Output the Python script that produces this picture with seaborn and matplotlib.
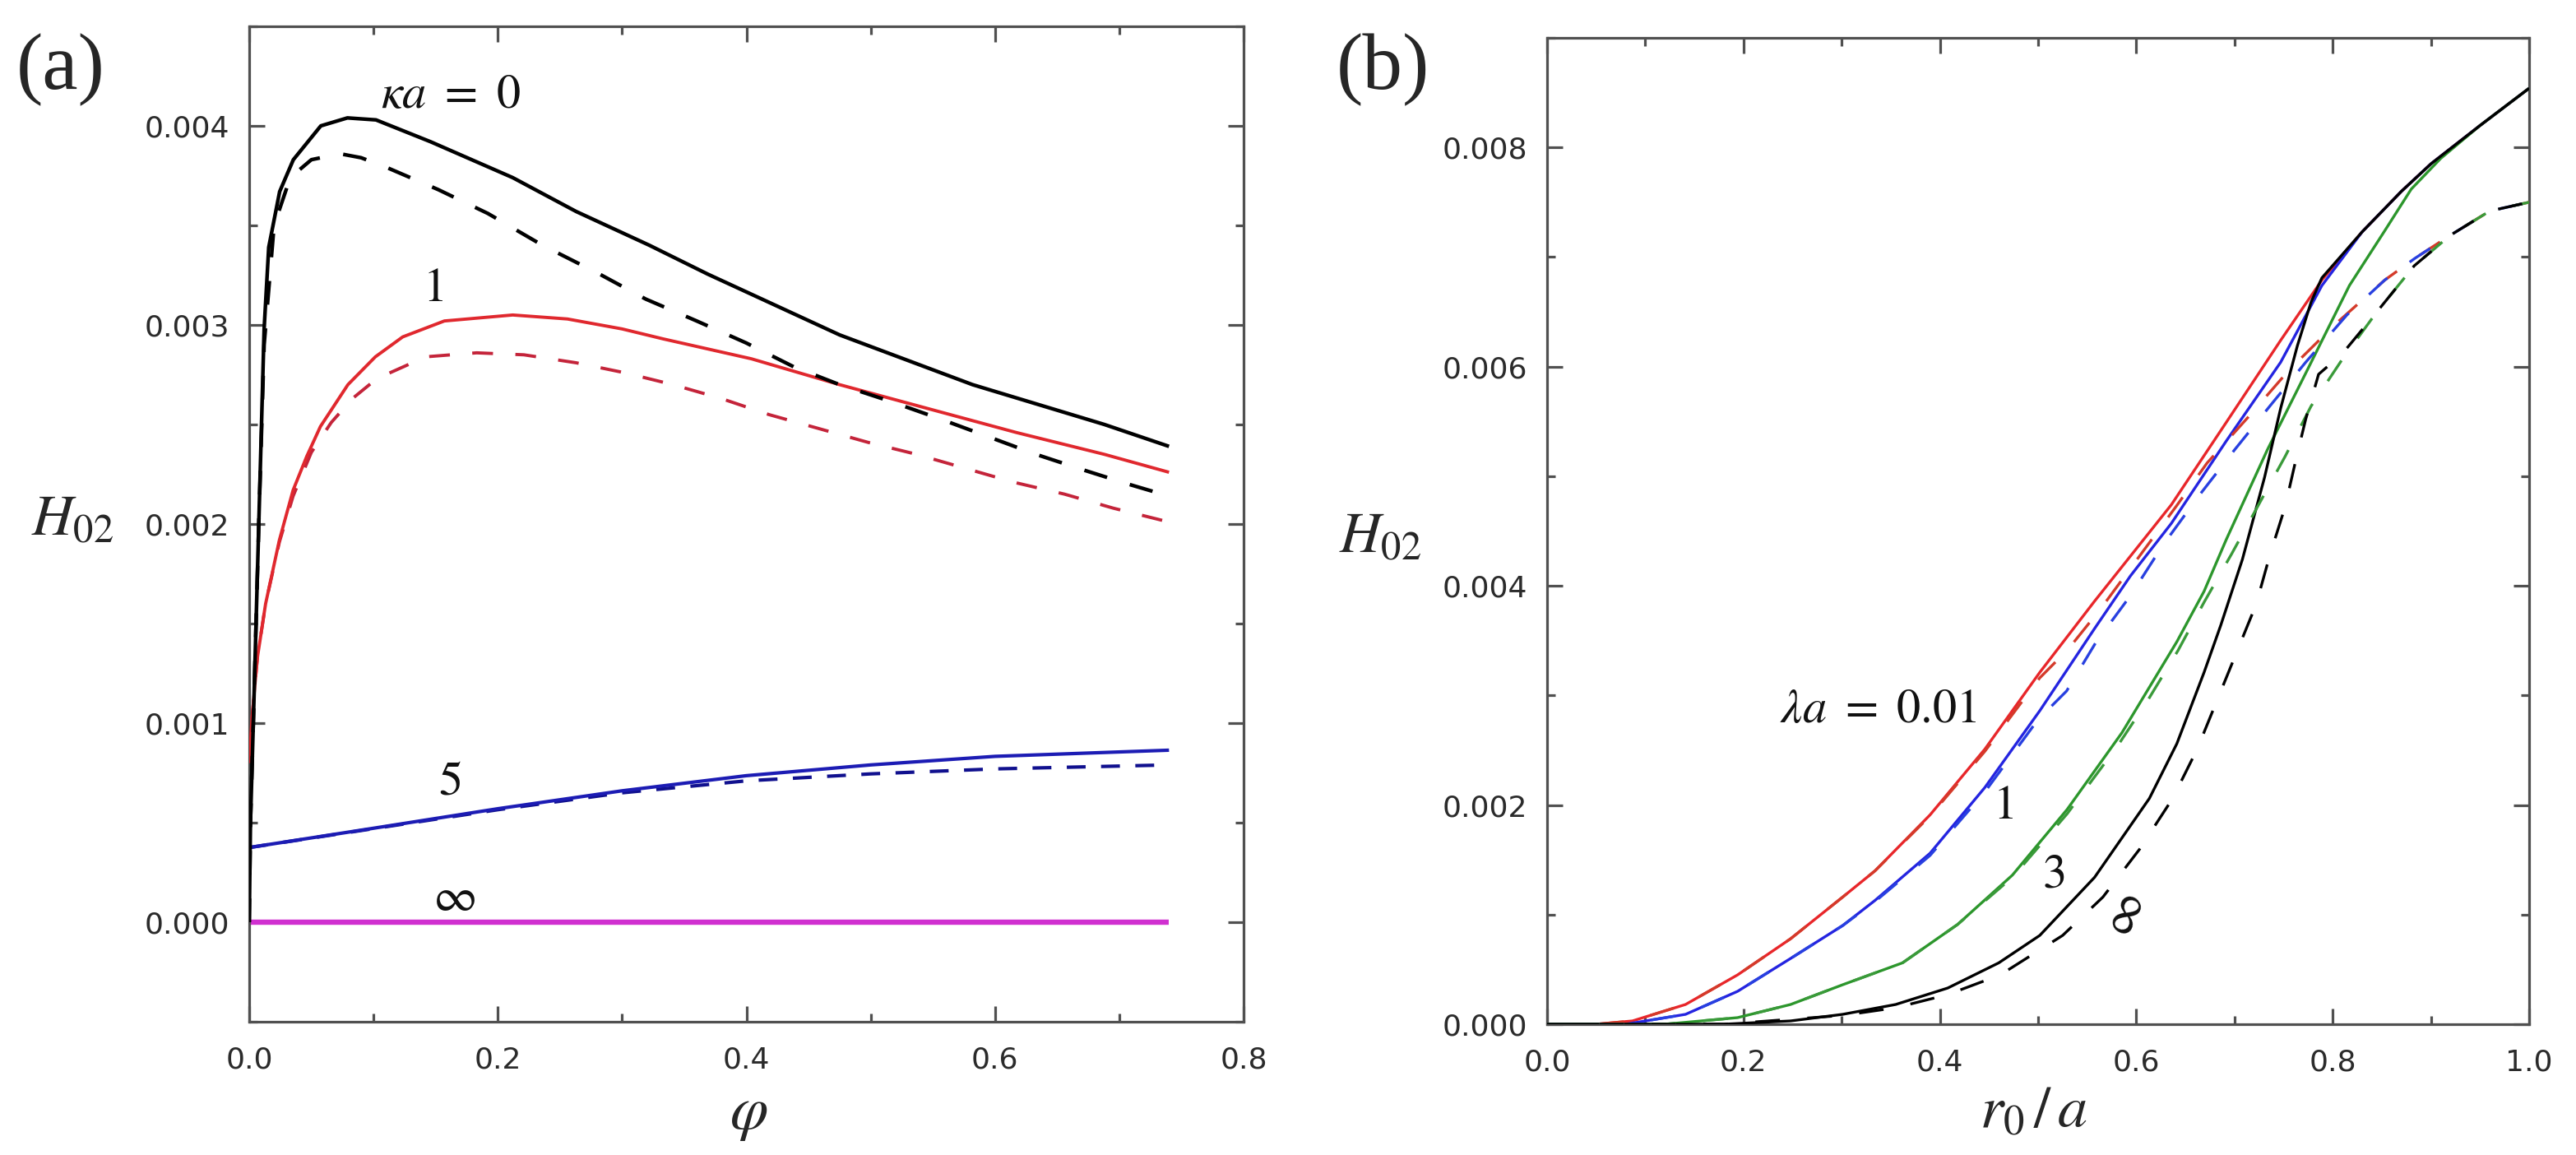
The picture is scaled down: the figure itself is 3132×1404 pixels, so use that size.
import matplotlib
matplotlib.use("Agg")
import matplotlib.pyplot as plt
import seaborn as sns
from matplotlib.ticker import MultipleLocator, FormatStrFormatter

# ---------------- data : panel (a)  H02 vs phi ----------------
phi_k0_solid = [0, 0.001, 0.0033, 0.0077, 0.012, 0.0157, 0.0245, 0.0355, 0.0576, 0.079, 0.102,
                0.146, 0.212, 0.263, 0.322, 0.369, 0.475, 0.582, 0.688, 0.74]
H_k0_solid = [0, 0.0005, 0.001, 0.002, 0.00298, 0.00339, 0.00367, 0.00383, 0.0040, 0.00404, 0.00403,
              0.00392, 0.00374, 0.00357, 0.0034, 0.003255, 0.00295, 0.0027, 0.0025, 0.00239]

phi_k0_dash = [0, 0.001, 0.0033, 0.0077, 0.012, 0.02, 0.033, 0.05, 0.073, 0.09, 0.111, 0.152, 0.192,
               0.236, 0.2805, 0.319, 0.36, 0.3997, 0.438, 0.475, 0.514, 0.555, 0.594, 0.633, 0.672,
               0.7075, 0.74]
H_k0_dash = [0, 0.0005, 0.001, 0.002, 0.0029, 0.0035, 0.00374, 0.00383, 0.00386, 0.00384, 0.00379,
             0.00368, 0.00356, 0.0034, 0.00326, 0.00313, 0.00302, 0.00291, 0.00279, 0.0027, 0.00262,
             0.00253, 0.00244, 0.00235, 0.00227, 0.0022, 0.00214]

phi_k1_solid = [0, 0.002, 0.0044, 0.0066, 0.0132, 0.0243, 0.0353, 0.0463, 0.0573, 0.0794, 0.1015,
                0.1235, 0.157, 0.212, 0.256, 0.3, 0.333, 0.404, 0.475, 0.546, 0.617, 0.688, 0.74]
H_k1_solid = [0.0008, 0.001, 0.00118, 0.00133, 0.0016, 0.00192, 0.00217, 0.00234, 0.00249, 0.0027,
              0.00284, 0.00294, 0.00302, 0.00305, 0.00303, 0.00298, 0.00293, 0.00283, 0.0027, 0.00258,
              0.00246, 0.00235, 0.00226]

phi_k1_dash = [0, 0.002, 0.0044, 0.0066, 0.0132, 0.0243, 0.0353, 0.05, 0.066, 0.083, 0.1026, 0.142,
               0.183, 0.221, 0.263, 0.302, 0.341, 0.38, 0.418, 0.458, 0.498, 0.537, 0.576, 0.615,
               0.656, 0.695, 0.74]
H_k1_dash = [0.0008, 0.001, 0.00118, 0.00133, 0.0016, 0.00191, 0.00214, 0.00236, 0.00251, 0.00263,
             0.00273, 0.00284, 0.00286, 0.00285, 0.00281, 0.00276, 0.0027, 0.00263, 0.00255, 0.00248,
             0.00241, 0.00235, 0.00228, 0.00221, 0.00215, 0.00208, 0.00201]

phi_k5 = [0, 0.1, 0.2, 0.3, 0.4, 0.5, 0.6, 0.74]
H_k5_solid = [0.000375, 0.000472, 0.00057, 0.00066, 0.000736, 0.00079, 0.000833, 0.000864]
H_k5_dash = [0.000375, 0.00047, 0.000565, 0.00065, 0.00071, 0.000745, 0.00077, 0.00079]

phi_kinf = [0, 0.74]
H_kinf = [0, 0]

labels_a = [r"$\kappa a\ =\ 0$", r"$1$", r"$5$", r"$\infty$"]

# ---------------- data : panel (b)  H02 vs r0/a ----------------
r_red = [0.0, 0.05, 0.087, 0.141, 0.194, 0.248, 0.301, 0.334, 0.39, 0.4458, 0.5017, 0.5575, 0.6357,
         0.6915, 0.747, 0.789, 0.83, 0.87, 0.9, 0.95, 1.0]
H_red = [0, 0, 0.00003, 0.00018, 0.00045, 0.00078, 0.00116, 0.0014, 0.00191, 0.00251, 0.00321, 0.00386,
         0.00474, 0.00549, 0.00624, 0.00679, 0.00723, 0.0076, 0.00785, 0.0082, 0.00854]

r_blue = [0.0, 0.08, 0.141, 0.194, 0.248, 0.301, 0.334, 0.39, 0.4458, 0.5017, 0.5575, 0.594, 0.6357,
          0.6915, 0.747, 0.789, 0.83, 0.87, 0.9, 0.95, 1.0]
H_blue = [0, 0, 0.00009, 0.0003, 0.0006, 0.0009, 0.00113, 0.00156, 0.00216, 0.00286, 0.00361, 0.00409,
          0.00457, 0.00532, 0.00604, 0.00674, 0.00723, 0.0076, 0.00785, 0.0082, 0.00854]

r_green = [0.0, 0.12, 0.194, 0.248, 0.301, 0.362, 0.418, 0.4738, 0.5296, 0.5854, 0.6413, 0.669, 0.6915,
           0.7334, 0.7753, 0.817, 0.853, 0.88, 0.91, 0.95, 1.0]
H_green = [0, 0, 0.00006, 0.00018, 0.00036, 0.00056, 0.00091, 0.00136, 0.00196, 0.00266, 0.00349,
           0.00395, 0.00442, 0.00524, 0.00599, 0.00674, 0.00724, 0.00762, 0.0079, 0.0082, 0.00854]

r_black = [0.0, 0.18, 0.248, 0.301, 0.355, 0.408, 0.46, 0.5017, 0.5575, 0.6133, 0.6413, 0.669, 0.686,
           0.708, 0.7306, 0.747, 0.764, 0.778, 0.789, 0.83, 0.87, 0.9, 0.95, 1.0]
H_black = [0, 0, 0.00003, 0.00009, 0.00018, 0.00033, 0.00056, 0.00081, 0.00134, 0.00206, 0.00256,
           0.00321, 0.00364, 0.00424, 0.00499, 0.00562, 0.00619, 0.00659, 0.00681, 0.00723, 0.0076,
           0.00785, 0.0082, 0.00854]

r_red_d = [0.0, 0.05, 0.087, 0.141, 0.194, 0.248, 0.301, 0.334, 0.39, 0.4458, 0.5017, 0.5305, 0.5645,
           0.641, 0.672, 0.714, 0.7557, 0.803, 0.853, 0.884, 0.92, 0.96, 1.0]
H_red_d = [0, 0, 0.00003, 0.00018, 0.00045, 0.00078, 0.00116, 0.0014, 0.0019, 0.00249, 0.00316,
           0.00342, 0.0038, 0.00473, 0.00512, 0.00554, 0.00597, 0.00639, 0.00679, 0.00699, 0.0072,
           0.00742, 0.0075]

r_blue_d = [0.0, 0.08, 0.141, 0.194, 0.248, 0.301, 0.334, 0.39, 0.4458, 0.5, 0.529, 0.5586, 0.594,
            0.627, 0.6636, 0.7, 0.736, 0.7725, 0.8143, 0.853, 0.884, 0.92, 0.96, 1.0]
H_blue_d = [0, 0, 0.00009, 0.0003, 0.0006, 0.0009, 0.00112, 0.00154, 0.00212, 0.00278, 0.00304,
            0.00348, 0.00391, 0.00437, 0.00482, 0.00524, 0.00564, 0.00604, 0.00647, 0.00679, 0.00699,
            0.0072, 0.00742, 0.0075]

r_green_d = [0.0, 0.12, 0.194, 0.248, 0.301, 0.362, 0.418, 0.4738, 0.5296, 0.581, 0.612, 0.6425, 0.669,
             0.697, 0.7515, 0.778, 0.81, 0.845, 0.883, 0.92, 0.96, 1.0]
H_green_d = [0, 0, 0.00006, 0.00018, 0.00036, 0.00056, 0.00091, 0.00134, 0.00192, 0.00254, 0.00296,
             0.00341, 0.00385, 0.00429, 0.00518, 0.00564, 0.00607, 0.0065, 0.00692, 0.0072, 0.00742,
             0.0075]

r_black_d = [0.0, 0.18, 0.301, 0.355, 0.408, 0.4615, 0.525, 0.566, 0.6036, 0.637, 0.662, 0.722, 0.736,
             0.7515, 0.763, 0.7725, 0.7856, 0.81, 0.845, 0.883, 0.92, 0.96, 1.0]
H_black_d = [0, 0, 0.00008, 0.00015, 0.00027, 0.00045, 0.00081, 0.00116, 0.0016, 0.00206, 0.00251,
             0.00383, 0.00428, 0.00472, 0.00517, 0.00552, 0.00593, 0.00612, 0.0065, 0.00692, 0.0072,
             0.00742, 0.0075]

labels_b = [r"$\lambda a\ =\ 0.01$", r"$1$", r"$3$", r"$\infty$"]

# ---------------- style ----------------
sns.set_style("ticks")
plt.rcParams["font.family"] = ["DejaVu Sans"]
plt.rcParams["mathtext.fontset"] = "stix"

W, H = 3132, 1404
fig = plt.figure(figsize=(W / 100, H / 100), dpi=100)

ax_a = fig.add_axes([303 / W, 1 - 1242 / H, (1512 - 303) / W, (1242 - 32) / H])
ax_b = fig.add_axes([1881 / W, 1 - 1245 / H, 1194 / W, (1245 - 46) / H])


def draw(ax, x, y, color, lw, dashes=None, z=3):
    sns.lineplot(x=x, y=y, ax=ax, color=color, linewidth=lw, sort=False,
                 estimator=None, legend=False, zorder=z)
    ln = ax.lines[-1]
    if dashes is not None:
        ln.set_dashes(dashes)
        ln.set_dash_capstyle("butt")
        ln.set_dash_joinstyle("round")
    ln.set_solid_capstyle("butt")
    ln.set_solid_joinstyle("round")


# panel (a)
draw(ax_a, phi_kinf, H_kinf, "#D030D0", 4.6, z=2)
draw(ax_a, phi_k5, H_k5_dash, "#10108E", 3.0, dashes=(5.5, 4.5), z=3)
draw(ax_a, phi_k5, H_k5_solid, "#1C1CB4", 3.0, z=3)
draw(ax_a, phi_k1_dash, H_k1_dash, "#C4243A", 2.8, dashes=(6.5, 7), z=4)
draw(ax_a, phi_k1_solid, H_k1_solid, "#E0282E", 2.8, z=4)
draw(ax_a, phi_k0_dash, H_k0_dash, "#000000", 3.2, dashes=(6.5, 6.5), z=5)
draw(ax_a, phi_k0_solid, H_k0_solid, "#000000", 3.2, z=5)

# panel (b)
LWB = 2.4
DB = (9, 10)
draw(ax_b, r_red, H_red, "#E8262A", LWB, z=3)
draw(ax_b, r_blue, H_blue, "#2424E0", LWB, z=3)
draw(ax_b, r_green, H_green, "#2C962C", LWB, z=3)
draw(ax_b, r_black, H_black, "#000000", LWB, z=3)
draw(ax_b, r_red_d, H_red_d, "#D43A2A", LWB, dashes=DB, z=4)
draw(ax_b, r_blue_d, H_blue_d, "#2840E0", LWB, dashes=DB, z=4)
draw(ax_b, r_green_d, H_green_d, "#3A9A3A", LWB, dashes=DB, z=4)
draw(ax_b, r_black_d, H_black_d, "#000000", LWB, dashes=DB, z=4)

# axes formatting
spine_col = "#505050"
for ax in (ax_a, ax_b):
    ax.set_xlabel("")
    ax.set_ylabel("")
    for s in ax.spines.values():
        s.set_visible(True)
        s.set_color(spine_col)
        s.set_linewidth(2.3)
    ax.tick_params(which="both", direction="in", top=True, right=True, color=spine_col,
                   width=2.3, labelsize=26, labelcolor="#2b2b2b")
    ax.tick_params(which="major", length=14)
    ax.tick_params(which="minor", length=7)
    ax.tick_params(axis="x", which="both", pad=21)
    ax.tick_params(axis="y", which="both", pad=17)
    ax.xaxis.set_major_formatter(FormatStrFormatter("%.1f"))
    ax.yaxis.set_major_formatter(FormatStrFormatter("%.3f"))

ax_a.set_xlim(0, 0.8)
ax_a.set_ylim(-0.0005, 0.0045)
ax_a.xaxis.set_major_locator(MultipleLocator(0.2))
ax_a.xaxis.set_minor_locator(MultipleLocator(0.1))
ax_a.yaxis.set_major_locator(MultipleLocator(0.001))
ax_a.yaxis.set_minor_locator(MultipleLocator(0.0005))

ax_b.set_xlim(0, 1.0)
ax_b.set_ylim(0, 0.009)
ax_b.xaxis.set_major_locator(MultipleLocator(0.2))
ax_b.xaxis.set_minor_locator(MultipleLocator(0.1))
ax_b.yaxis.set_major_locator(MultipleLocator(0.002))
ax_b.yaxis.set_minor_locator(MultipleLocator(0.001))

# curve annotations
ANN = 42
pos_a = [(0.162, 0.00416), (0.148, 0.00319), (0.161, 0.00071), (0.165, 0.000124)]
for t, (x, y) in zip(labels_a, pos_a):
    ax_a.text(x, y, t, fontsize=ANN, ha="center", va="center", color="#111111", zorder=6)

pos_b = [(0.3375, 0.00288), (0.464, 0.0020), (0.516, 0.00137), (0.587, 0.0010)]
rot_b = [0, 0, 0, 65]
for t, (x, y), r in zip(labels_b, pos_b, rot_b):
    ax_b.text(x, y, t, fontsize=ANN, ha="center", va="center", rotation=r,
              color="#111111", zorder=6)

# axis titles / panel letters
fig.text(38 / W, 1 - 650 / H, r"$H_{02}$", fontsize=50, ha="left", va="baseline")
fig.text(1628 / W, 1 - 671 / H, r"$H_{02}$", fontsize=50, ha="left", va="baseline")
fig.text(910 / W, 1 - 1372 / H, r"$\varphi$", fontsize=54, ha="center", va="baseline")
fig.text(2472 / W, 1 - 1370 / H, r"$r_0\,/\,a$", fontsize=52, ha="center", va="baseline")
fig.text(20 / W, 1 - 108 / H, "(a)", fontsize=70, family=["Liberation Serif"],
         ha="left", va="baseline")
fig.text(1625 / W, 1 - 108 / H, "(b)", fontsize=70, family=["Liberation Serif"],
         ha="left", va="baseline")

fig.savefig("out.png", dpi=100)
